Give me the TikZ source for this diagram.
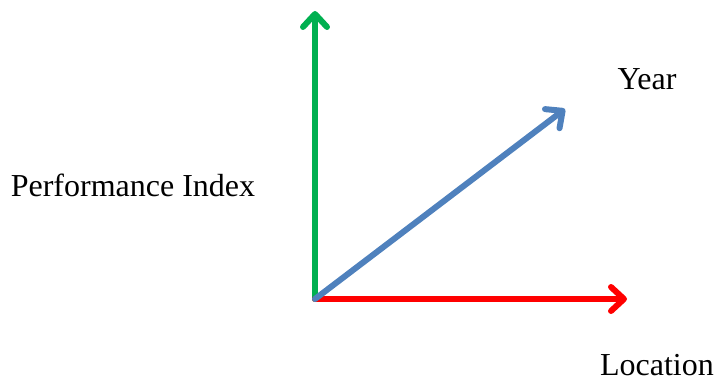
\documentclass[tikz,border=0pt]{standalone}
\usepackage{fontspec}
\setmainfont{Liberation Serif}
\usetikzlibrary{arrows.meta}
\definecolor{axgreen}{RGB}{0,176,80}
\definecolor{axblue}{RGB}{79,129,189}
\definecolor{axred}{RGB}{255,0,0}

\begin{document}
\begin{tikzpicture}[x=1pt, y=-1pt, every node/.style={font=\fontsize{32}{38}\selectfont},
	axis/.style={line width=6pt, line cap=round, -{Straight Barb[length=13pt, width=24pt, round]}}]
	\useasboundingbox (0,0) rectangle (716,382);
	\coordinate (O) at (315,299);
	\coordinate (pitop) at (315,11);
	\coordinate (yeartip) at (565,109);
	\coordinate (loctip) at (627,299);
	\draw[axis, axgreen] (O) -- (pitop);
	\draw[axis, axred] (O) -- (loctip);
	\draw[axis, axblue] (O) -- (yeartip);
	\node (pi) at (133,185) {Performance Index};
	\node (year) at (647,79) {Year};
	\node (loc) at (657,365) {Location};
\end{tikzpicture}
\end{document}
